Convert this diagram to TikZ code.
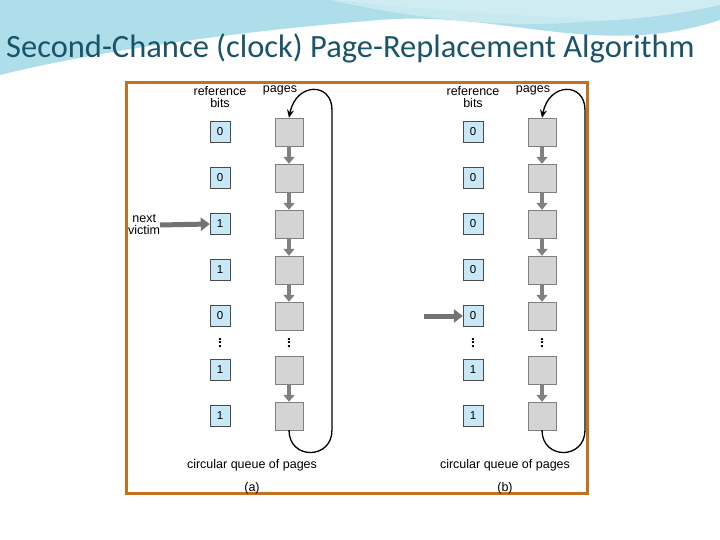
\documentclass[tikz,border=0pt]{standalone}
\usepackage{fontspec}
\setmainfont{Liberation Sans}
\newfontfamily\titlefont{Carlito}
\usetikzlibrary{arrows.meta}
\definecolor{frameor}{RGB}{196,112,30}
\definecolor{bitblue}{RGB}{200,232,248}
\definecolor{pagegray}{RGB}{212,212,212}
\definecolor{titlecol}{RGB}{25,85,105}
\definecolor{swoosh}{RGB}{120,200,220}
\tikzset{
 bit/.style={draw=black!70,fill=bitblue,minimum width=20pt,minimum height=21pt,inner sep=0pt,font=\fontsize{11.5}{12}\selectfont},
 pagebox/.style={draw=black!50,fill=pagegray,minimum width=28pt,minimum height=28pt,inner sep=0pt},
 garrow/.style={line width=3.5pt,draw=black!50,-{Triangle[length=7pt,width=11pt]}},
 lab/.style={font=\fontsize{12.5}{12}\selectfont,align=center,inner sep=0pt},
 loop/.style={line width=1.3pt,-{Stealth[length=8pt,width=7pt]}},
 victim/.style={line width=5pt,draw=black!55,-{Triangle[length=9pt,width=13pt]}}
}
\begin{document}
\begin{tikzpicture}[x=1pt,y=-1pt]
\useasboundingbox (0,0) rectangle (720,540);
\fill[white] (0,0) rectangle (720,540);
% top decoration
\fill[swoosh!60] (0,0) -- (720,0) -- (720,20) .. controls (600,60) and (500,10) .. (380,20) .. controls (250,30) and (100,50) .. (0,75) -- cycle;
\fill[swoosh!35] (0,0) -- (330,0) .. controls (450,10) and (560,40) .. (720,5) -- (720,0) -- cycle;
\fill[white!60!swoosh] (330,0) .. controls (420,20) and (520,30) .. (600,20) .. controls (520,15) and (420,10) .. (330,0);
\node[anchor=west,inner sep=0pt,text=titlecol,font=\titlefont\fontsize{32.5}{34}\selectfont] (title) at (6,48) {Second-Chance (clock) Page-Replacement Algorithm};
% frame
\draw[frameor,line width=3pt] (126,83) rectangle (587,493);
\foreach \side/\dx/\bits in {a/0/{0,0,1,1,0,1,1}, b/253/{0,0,0,0,0,1,1}}{
 \begin{scope}[xshift=\dx]
 \node[lab] (rb\side) at (220,97) {reference\\bits};
 \node[lab] (pg\side) at (280,90) {pages};
 \foreach \b [count=\i] in \bits {
   \pgfmathsetmacro\yy{{132,178,224,270,316,370,416}[\i-1]}
   \node[bit] (b\side\i) at (220,\yy) {\b};
   \node[pagebox] (p\side\i) at (289,\yy) {};
 }
 \foreach \i/\j in {1/2,2/3,3/4,4/5,6/7}{ \draw[garrow] (p\side\i.south) -- (p\side\j.north); }
 \node[lab,rotate=90] (db\side) at (220,343) {\fontsize{14}{14}\selectfont\textbf{...}};
 \node[lab,rotate=90] (dp\side) at (289,343) {\fontsize{14}{14}\selectfont\textbf{...}};
 \draw[loop] (p\side7.south) .. controls (289,460) and (332,460) .. (332,430) -- (332,110) .. controls (332,82) and (296,82) .. (p\side1.north);
 \node[lab] (cq\side) at (252,465) {circular queue of pages};
 \node[lab] (cap\side) at (252,488) {(\side)};
 \end{scope}
}
\node[lab,anchor=west] (nv) at (128,225) {next\\victim};
\draw[victim] (160,225) -- (ba3.west);
\coordinate (vs) at (424,316);
\draw[victim] (vs) -- (bb5.west);
\end{tikzpicture}
\end{document}
